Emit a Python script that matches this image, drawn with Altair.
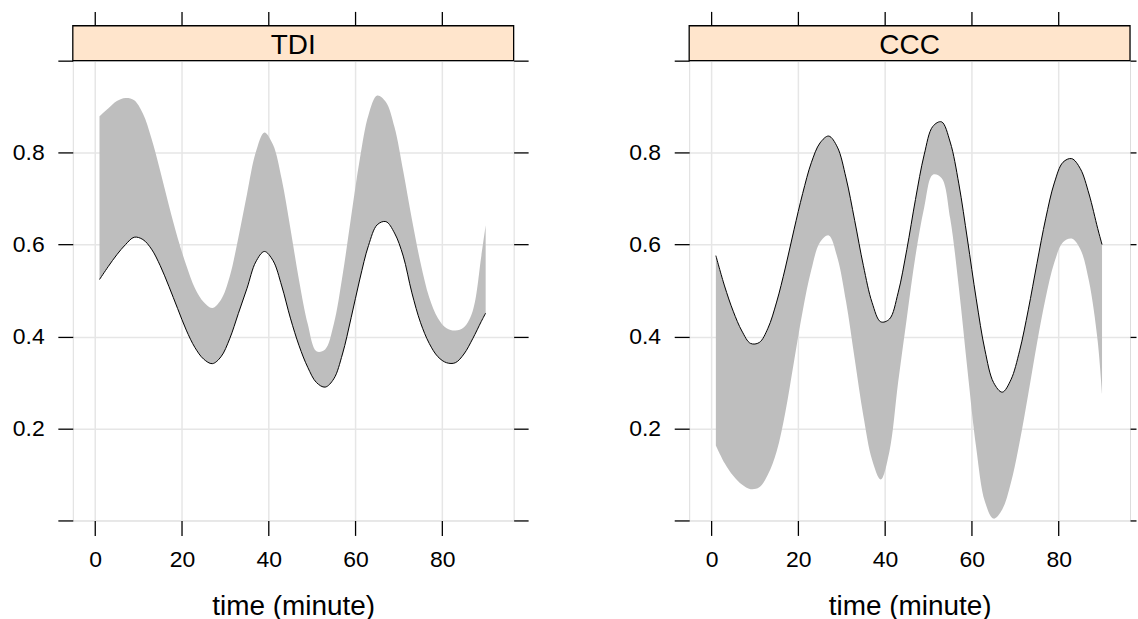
import altair as alt
import pandas as pd

# ---------------- data ----------------
time_min = [1, 3, 5, 7, 9, 11, 13, 15, 17, 19, 21, 23, 25, 27, 29, 31, 33, 35, 37, 39,
            41, 43, 45, 47, 49, 51, 53, 55, 57, 59, 61, 63, 65, 67, 69, 71, 73, 75, 77, 79,
            81, 83, 85, 87, 89, 90]

tdi_estimate = [0.524, 0.552, 0.578, 0.600, 0.616, 0.611, 0.590, 0.554, 0.509, 0.461,
                0.414, 0.376, 0.351, 0.341, 0.356, 0.395, 0.450, 0.505, 0.562, 0.585,
                0.565, 0.510, 0.440, 0.380, 0.333, 0.300, 0.290, 0.308, 0.362, 0.441,
                0.525, 0.598, 0.643, 0.650, 0.625, 0.575, 0.495, 0.430, 0.385, 0.356,
                0.343, 0.343, 0.362, 0.395, 0.433, 0.451]
tdi_upper = [0.879, 0.896, 0.912, 0.919, 0.914, 0.885, 0.830, 0.760, 0.685, 0.615,
             0.555, 0.505, 0.475, 0.462, 0.480, 0.530, 0.615, 0.710, 0.800, 0.844,
             0.817, 0.742, 0.635, 0.522, 0.427, 0.368, 0.372, 0.427, 0.532, 0.661,
             0.786, 0.882, 0.924, 0.910, 0.855, 0.760, 0.655, 0.560, 0.485, 0.440,
             0.418, 0.413, 0.420, 0.455, 0.575, 0.642]

ccc_estimate = [0.576, 0.510, 0.455, 0.412, 0.385, 0.387, 0.418, 0.475, 0.549, 0.632,
                0.711, 0.778, 0.821, 0.836, 0.812, 0.745, 0.652, 0.554, 0.474, 0.432,
                0.438, 0.495, 0.589, 0.698, 0.795, 0.857, 0.867, 0.823, 0.732, 0.610,
                0.482, 0.371, 0.300, 0.279, 0.306, 0.369, 0.458, 0.559, 0.656, 0.734,
                0.779, 0.787, 0.765, 0.710, 0.635, 0.600]
ccc_lower = [0.163, 0.125, 0.097, 0.078, 0.068, 0.072, 0.100, 0.150, 0.235, 0.345,
             0.455, 0.545, 0.605, 0.620, 0.572, 0.476, 0.351, 0.227, 0.132, 0.089,
             0.150, 0.300, 0.440, 0.575, 0.680, 0.752, 0.745, 0.657, 0.506, 0.326,
             0.158, 0.041, 0.004, 0.024, 0.082, 0.170, 0.275, 0.385, 0.484, 0.561,
             0.605, 0.613, 0.590, 0.520, 0.390, 0.276]

panel_names = ["TDI", "CCC"]
x_ticks = [0, 20, 40, 60, 80]
y_ticks = [0.0, 0.2, 0.4, 0.6, 0.8, 1.0]
x_title = "time (minute)"

# ---------------- layout / style ----------------
W, H = 442, 461
STRIP_H = 35
X_DOMAIN = [-5.15, 96.45]
Y_DOMAIN = [0.0, 1.0]
FONT = "Liberation Sans"
BAND = "#bebebe"
STRIP_FILL = "#ffe5cc"
GRID = "#e6e6e6"
LW = 1.3
INTERP = "catmull-rom"

df_tdi = pd.DataFrame({"time": time_min, "est": tdi_estimate,
                       "lo": tdi_estimate, "hi": tdi_upper})
df_ccc = pd.DataFrame({"time": time_min, "est": ccc_estimate,
                       "lo": ccc_lower, "hi": ccc_estimate})


def panel(name, df, right_tick):
    xs = alt.Scale(domain=X_DOMAIN, nice=False, zero=False)
    ys = alt.Scale(domain=Y_DOMAIN, nice=False, zero=False)

    band = alt.Chart(df).mark_area(color=BAND, interpolate=INTERP, opacity=1).encode(
        x=alt.X("time:Q", scale=xs,
                axis=alt.Axis(orient="bottom", values=x_ticks, title=x_title, grid=True,
                              gridColor=GRID, gridWidth=1.5, domain=False,
                              tickSize=15, tickWidth=LW, tickColor="black",
                              labelFontSize=23, labelPadding=13, labelColor="black",
                              labelFont=FONT, titleFont=FONT, titleFontSize=28,
                              titleFontWeight="normal", titleColor="black",
                              titlePadding=21, format="d", labelFlush=False)),
        y=alt.Y("lo:Q", scale=ys,
                axis=alt.Axis(orient="left", values=y_ticks, title=None, grid=True,
                              gridColor=GRID, gridWidth=1.5, domain=False,
                              tickSize=15, tickWidth=LW, tickColor="black",
                              labelFontSize=23, labelPadding=13.7, labelColor="black",
                              labelFont=FONT, labelFlush=False,
                              labelExpr="datum.value > 0.01 && datum.value < 0.99 ? format(datum.value, '.1f') : ''")),
        y2="hi:Q",
    )

    line = alt.Chart(df).mark_line(color="black", strokeWidth=1, interpolate=INTERP).encode(
        x=alt.X("time:Q", scale=xs,
                axis=alt.Axis(orient="top", values=x_ticks, title=None, grid=False,
                              labels=False, domain=False, offset=STRIP_H,
                              tickSize=14.4, tickWidth=LW, tickColor="black")),
        y=alt.Y("est:Q", scale=ys,
                axis=alt.Axis(orient="right", values=y_ticks, title=None, grid=False,
                              labels=False, domain=False,
                              tickSize=right_tick, tickWidth=LW, tickColor="black")),
    )

    strip_data = alt.Data(values=[{"panel": name}])
    strip = alt.Chart(strip_data).mark_rect(fill=STRIP_FILL, stroke="black",
                                            strokeWidth=LW).encode(
        x=alt.value(0), x2=alt.value(W), y=alt.value(-STRIP_H), y2=alt.value(0))
    strip_text = alt.Chart(strip_data).mark_text(
        font=FONT, fontSize=28, color="black", baseline="alphabetic", align="center"
    ).encode(text="panel:N", x=alt.value(W / 2), y=alt.value(-7))

    return alt.layer(band, line, strip, strip_text).resolve_axis(
        x="independent", y="independent").properties(width=W, height=H)


left = panel(panel_names[0], df_tdi, 14.5)
right = panel(panel_names[1], df_ccc, 6)

chart = alt.hconcat(left, right, spacing=176, bounds="flush").properties(
    padding={"left": 11, "top": 9, "right": 0, "bottom": 1}
).configure_view(stroke="black", strokeWidth=LW).configure(font=FONT, background="white")

chart.save("out.html", embed_options={"renderer": "svg", "actions": False})
